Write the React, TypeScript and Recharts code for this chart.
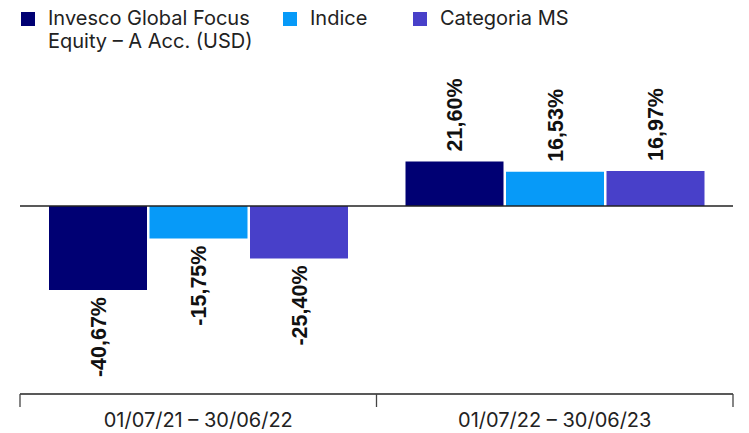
import React from "react";
import { BarChart, Bar, XAxis, YAxis, ReferenceLine, LabelList } from "recharts";

const categories = ["01/07/21 – 30/06/22", "01/07/22 – 30/06/23"];
const fundValues = [-40.67, 21.6];
const indexValues = [-15.75, 16.53];
const categoryValues = [-25.4, 16.97];
const seriesNames = ["Invesco Global Focus Equity – A Acc. (USD)", "Indice", "Categoria MS"];
const legendLines = [["Invesco Global Focus", "Equity – A Acc. (USD)"], ["Indice"], ["Categoria MS"]];
const colors = ["#000073", "#079AF8", "#4840C9"];

const data = categories.map((c, i) => ({
  name: c,
  fund: fundValues[i],
  index: indexValues[i],
  cat: categoryValues[i],
}));

const CHART_W = 741;
const CHART_H = 425;
const MARGIN = { top: 72, right: 16, bottom: 9, left: 12 };
const PLOT_W = CHART_W - MARGIN.left - MARGIN.right;
const BAND = PLOT_W / categories.length;

const fmt = (v: number) => v.toFixed(2).replace(".", ",") + "%";

const BarLabel = (props: any) => {
  const { x, y, width, height, value } = props;
  const cx = x + width / 2 + 1;
  const top = Math.min(y, y + height);
  const bottom = Math.max(y, y + height);
  const pos = value >= 0;
  const ty = pos ? top - 10 : bottom + 7;
  return (
    <text
      x={cx}
      y={ty}
      transform={`rotate(-90, ${cx}, ${ty})`}
      textAnchor={pos ? "start" : "end"}
      dominantBaseline="central"
      fontFamily="'Liberation Sans', Arial, sans-serif"
      fontWeight="bold"
      fontSize={21.5}
      fill="#111"
    >
      {fmt(value)}
    </text>
  );
};

const AxisTick = (props: any) => {
  const { x, y, payload, index } = props;
  const last = index === categories.length - 1;
  return (
    <g>
      <line x1={x - BAND / 2} x2={x - BAND / 2} y1={y} y2={y + 13} stroke="#444" strokeWidth={1.3} />
      {last && <line x1={x + BAND / 2} x2={x + BAND / 2} y1={y} y2={y + 13} stroke="#444" strokeWidth={1.3} />}
      <text
        x={x}
        y={y + 33}
        textAnchor="middle"
        fontFamily="Inter, sans-serif"
        fontSize={20}
        fill="#222"
      >
        {payload.value}
      </text>
    </g>
  );
};

const Legend = () => {
  const xs = [13, 275, 405];
  return (
    <div style={{ position: "absolute", left: 0, top: 0, width: CHART_W, height: 60, fontFamily: "Inter, sans-serif", fontSize: 20, color: "#222" }}>
      {legendLines.map((lines, i) => (
        <div key={i} style={{ position: "absolute", left: xs[i], top: 4, display: "flex" }} title={seriesNames[i]}>
          <div style={{ width: 14, height: 14, background: colors[i], marginTop: 0, marginRight: 13 }} />
          <div style={{ lineHeight: "23px", marginTop: -5 }}>
            {lines.map((l, j) => (
              <div key={j}>{l}</div>
            ))}
          </div>
        </div>
      ))}
    </div>
  );
};

export default function App() {
  return (
    <div style={{ position: "relative", width: CHART_W, height: CHART_H }}>
      <BarChart width={CHART_W} height={CHART_H} data={data} margin={MARGIN} barSize={98} barGap={2.5}>
        <YAxis hide domain={[-91, 61]} type="number" />
        <XAxis
          dataKey="name"
          height={30}
          axisLine={{ stroke: "#222", strokeWidth: 1.3 }}
          tickLine={false}
          tickSize={0}
          tickMargin={0}
          tick={<AxisTick />}
          interval={0}
        />
        <ReferenceLine y={0} stroke="#222" strokeWidth={1.3} />
        <Bar dataKey="fund" fill={colors[0]} isAnimationActive={false}>
          <LabelList dataKey="fund" content={<BarLabel />} />
        </Bar>
        <Bar dataKey="index" fill={colors[1]} isAnimationActive={false}>
          <LabelList dataKey="index" content={<BarLabel />} />
        </Bar>
        <Bar dataKey="cat" fill={colors[2]} isAnimationActive={false}>
          <LabelList dataKey="cat" content={<BarLabel />} />
        </Bar>
      </BarChart>
      <Legend />
    </div>
  );
}
